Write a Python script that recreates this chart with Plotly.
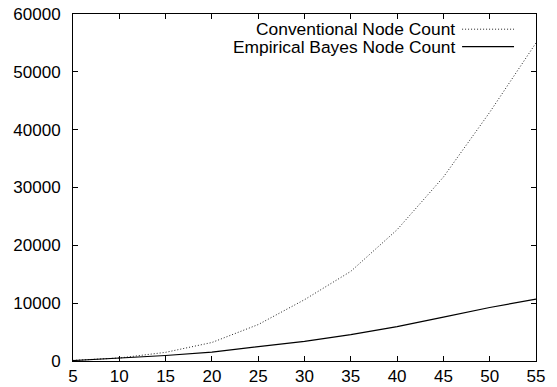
import plotly.graph_objects as go

# Data
n_values = [5, 10, 15, 20, 25, 30, 35, 40, 45, 50, 55]
conventional_count = [100, 520, 1500, 3200, 6300, 10600, 15500, 22700, 31800, 43000, 55000]
empirical_bayes_count = [80, 450, 950, 1550, 2450, 3400, 4550, 5950, 7600, 9250, 10700]
series_names = ["Conventional Node Count", "Empirical Bayes Node Count"]
x_ticks = list(range(5, 60, 5))
y_ticks = list(range(0, 60001, 10000))
y_tick_labels = [str(v) for v in y_ticks]
x_tick_labels = [str(v) for v in x_ticks]

FONT = "Liberation Sans, Arial, Helvetica, sans-serif"
FS = 17
FS_KEY = 17.4

fig = go.Figure()
fig.add_trace(go.Scatter(x=n_values, y=conventional_count, mode="lines",
                         name=series_names[0],
                         line=dict(color="#222222", width=1, dash="1px,2px")))
fig.add_trace(go.Scatter(x=n_values, y=empirical_bayes_count, mode="lines",
                         name=series_names[1],
                         line=dict(color="black", width=1.2)))

W, H = 557, 387
ml, mr, mt, mb = 72.5, 21, 14.3, 25.7

fig.update_layout(
    width=W, height=H,
    margin=dict(l=ml, r=mr, t=mt, b=mb, pad=0, autoexpand=False),
    paper_bgcolor="white", plot_bgcolor="white",
    showlegend=False,
    font=dict(family=FONT, size=FS, color="black"),
)
fig.update_xaxes(range=[5, 55], tickvals=x_ticks, ticktext=x_tick_labels,
                 ticks="inside", ticklen=5, automargin=False,
                 tickcolor="black", showline=True, linecolor="black", linewidth=1,
                 mirror="ticks", showgrid=False, zeroline=False,
                 ticklabelstandoff=0)
fig.update_yaxes(range=[0, 60000], tickvals=y_ticks, ticktext=y_tick_labels,
                 ticks="inside", ticklen=5, automargin=False,
                 tickcolor="black", showline=True, linecolor="black", linewidth=1,
                 mirror="ticks", showgrid=False, zeroline=False,
                 ticklabelstandoff=8)

# Gnuplot-style key: text right-aligned, line sample to the right
pw = W - ml - mr
ph = H - mt - mb
def px(xp):
    return (xp - ml) / pw
def py(yp):
    return 1 - (yp - mt) / ph

rows = [29.5, 47]
styles = [dict(color="#222222", width=1, dash="1px,2px"), dict(color="black", width=1.2)]
for name, yrow, st in zip(series_names, rows, styles):
    fig.add_annotation(x=px(456), y=py(yrow), xref="paper", yref="paper",
                       text=name, showarrow=False, xanchor="right", yanchor="middle",
                       borderpad=0,
                       font=dict(family=FONT, size=FS_KEY, color="black"))
    fig.add_shape(type="line", xref="paper", yref="paper",
                  x0=px(462), x1=px(514), y0=py(yrow), y1=py(yrow), line=st)

fig.write_html("out.html", config={"displayModeBar": False},
               post_script="document.body.style.margin='0';document.body.style.padding='0';")
